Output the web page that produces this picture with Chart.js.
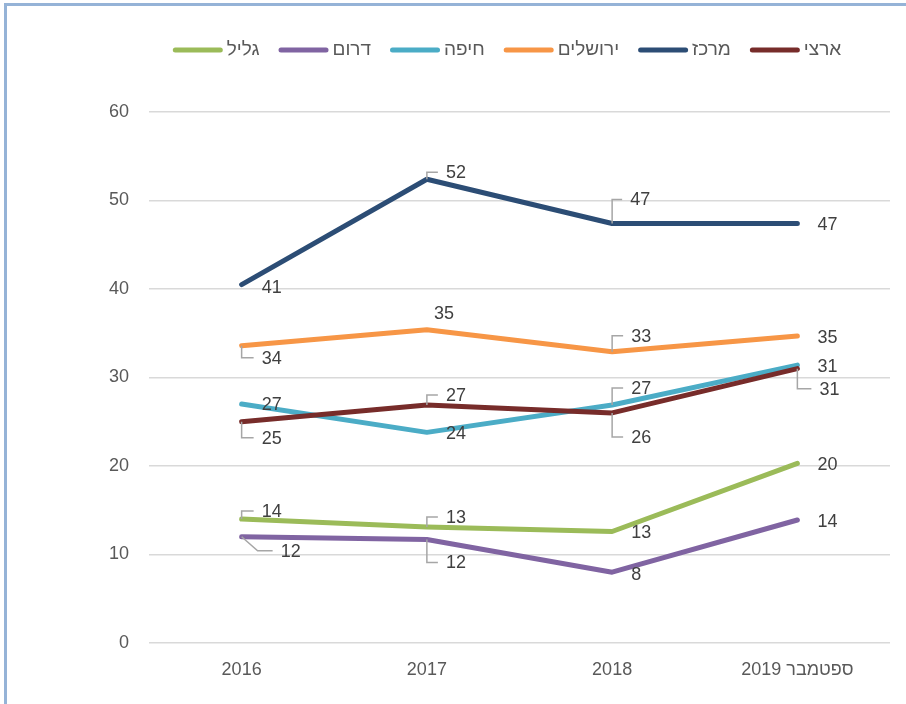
<!DOCTYPE html>
<html>
<head>
<meta charset="utf-8">
<script src="https://cdn.jsdelivr.net/npm/chart.js@4.4.1/dist/chart.umd.min.js"></script>
<style>
  html, body { margin: 0; padding: 0; background: #ffffff; }
  canvas { display: block; }
</style>
</head>
<body>
<canvas id="c" width="906" height="704"></canvas>
<script>
// ---- data ----
const categories = ['2016', '2017', '2018', 'ספטמבר 2019'];
const artzi       = [25.0, 26.9, 26.0, 31.0];   // ארצי
const merkaz      = [40.5, 52.4, 47.4, 47.4];   // מרכז
const yerushalayim= [33.6, 35.4, 32.9, 34.7];   // ירושלים
const haifa       = [27.0, 23.8, 26.9, 31.4];   // חיפה
const darom       = [12.0, 11.7, 8.0, 13.9];    // דרום
const galil       = [14.0, 13.1, 12.6, 20.3];   // גליל
const yMin = 0, yMax = 60, yStep = 10;

// ---- styles ----
const FONT = '"Liberation Sans", Arial, sans-serif';
const colors = {
  artzi: '#772c2a', merkaz: '#2c4d75', yerushalayim: '#f79646',
  haifa: '#4bacc6', darom: '#8064a2', galil: '#9bbb59'
};
// label placement per point: [dx, dy, leader?, leaderKink]
const place = {
  artzi:        [[20,16,1,0],[19,-10,1,0],[19,24,1,0],[22,20,1,0]],
  merkaz:       [[20,2,0,0],[19,-7,1,0],[18,-24,1,0],[20,1,0,0]],
  yerushalayim: [[20,12,1,0],[7,-17,0,0],[19,-16,1,0],[20,1,0,0]],
  haifa:        [[20,0,0,0],[19,1,0,0],[19,-17,1,0],[20,1,0,0]],
  darom:        [[39,14,1,16],[19,23,1,0],[19,2,0,0],[20,1,0,0]],
  galil:        [[20,-8,1,0],[19,-10,1,0],[19,1,0,0],[20,1,0,0]]
};

function ds(label, key, data) {
  return {
    label, data, key,
    borderColor: colors[key], backgroundColor: colors[key],
    borderWidth: 5, tension: 0, pointRadius: 0, pointHoverRadius: 0,
    borderCapStyle: 'round', borderJoinStyle: 'round', fill: false
  };
}

const datasets = [
  ds('ארצי', 'artzi', artzi),
  ds('מרכז', 'merkaz', merkaz),
  ds('ירושלים', 'yerushalayim', yerushalayim),
  ds('חיפה', 'haifa', haifa),
  ds('דרום', 'darom', darom),
  ds('גליל', 'galil', galil)
];
const legendOrder = ['galil', 'darom', 'haifa', 'yerushalayim', 'merkaz', 'artzi'];

const framePlugin = {
  id: 'frame',
  beforeDraw(chart) {
    const ctx = chart.ctx;
    ctx.save();
    ctx.fillStyle = '#ffffff';
    ctx.fillRect(0, 0, chart.width, chart.height);
    ctx.strokeStyle = '#95b3d7';
    ctx.lineWidth = 3;
    ctx.beginPath();
    ctx.moveTo(5.5, chart.height);
    ctx.lineTo(5.5, 4.5);
    ctx.lineTo(chart.width, 4.5);
    ctx.stroke();
    ctx.restore();
  }
};

const legendPlugin = {
  id: 'customLegend',
  afterDraw(chart) {
    const ctx = chart.ctx;
    ctx.save();
    ctx.font = '19px ' + FONT;
    const sw = 50, gapT = 4, gapI = 19, cy = 50;
    const items = legendOrder.map(k => {
      const d = chart.data.datasets.find(x => x.key === k);
      return { d, w: ctx.measureText(d.label).width };
    });
    const total = items.reduce((s, it) => s + sw + gapT + it.w, 0) + gapI * (items.length - 1);
    let x = 507 - total / 2;
    items.forEach(it => {
      ctx.strokeStyle = it.d.borderColor;
      ctx.lineWidth = 5;
      ctx.lineCap = 'round';
      ctx.beginPath();
      ctx.moveTo(x + 2.5, cy);
      ctx.lineTo(x + sw - 2.5, cy);
      ctx.stroke();
      ctx.fillStyle = '#595959';
      ctx.textBaseline = 'middle';
      ctx.textAlign = 'left';
      ctx.fillText(it.d.label, x + sw + gapT, cy);
      x += sw + gapT + it.w + gapI;
    });
    ctx.restore();
  }
};

const labelPlugin = {
  id: 'pointLabels',
  afterDatasetsDraw(chart) {
    const ctx = chart.ctx;
    ctx.save();
    ctx.font = '18px ' + FONT;
    ctx.textBaseline = 'middle';
    ctx.textAlign = 'left';
    chart.data.datasets.forEach((d, i) => {
      const meta = chart.getDatasetMeta(i);
      meta.data.forEach((pt, j) => {
        const [dx, dy, leader, kink] = place[d.key][j];
        const lx = pt.x + dx, ly = pt.y + dy;
        if (leader) {
          ctx.strokeStyle = '#a6a6a6';
          ctx.lineWidth = 1.5;
          ctx.beginPath();
          ctx.moveTo(pt.x, pt.y);
          ctx.lineTo(pt.x + kink, ly);
          ctx.lineTo(lx - 8, ly);
          ctx.stroke();
        }
        ctx.fillStyle = '#404040';
        ctx.fillText(String(Math.round(d.data[j])), lx, ly + 1);
      });
    });
    ctx.restore();
  }
};

new Chart(document.getElementById('c'), {
  type: 'line',
  data: { labels: categories, datasets },
  options: {
    responsive: false,
    devicePixelRatio: 1,
    animation: false,
    events: [],
    layout: { padding: { top: 112, left: 12, right: 16, bottom: 0 } },
    plugins: { legend: { display: false }, tooltip: { enabled: false } },
    scales: {
      x: {
        offset: true,
        grid: { display: false, drawTicks: false },
        border: { display: false },
        ticks: { color: '#595959', font: { size: 18, family: FONT }, padding: 16, maxRotation: 0 },
        afterFit(s) { s.height = 61; }
      },
      y: {
        min: yMin, max: yMax,
        grid: { color: '#d9d9d9', lineWidth: 1.5, drawTicks: false },
        border: { display: false },
        ticks: { stepSize: yStep, color: '#595959', font: { size: 18, family: FONT }, padding: 20 },
        afterFit(s) { s.width = 137; }
      }
    }
  },
  plugins: [framePlugin, labelPlugin, legendPlugin]
});
</script>
</body>
</html>
